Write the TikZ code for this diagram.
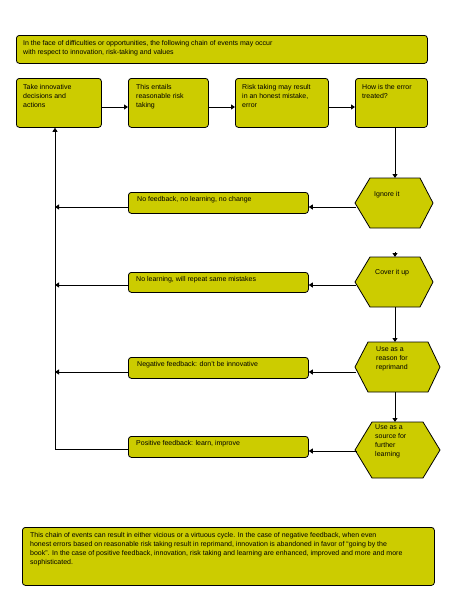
\documentclass[tikz,border=0pt]{standalone}
\usepackage{fontspec}
\setmainfont{Liberation Sans}
\usetikzlibrary{arrows.meta,calc}
\definecolor{olive}{RGB}{204,204,0}
\tikzset{
  box/.style={draw=black, line width=0.8pt, fill=olive, rounded corners=3pt, inner sep=0pt, anchor=north west},
  lbl/.style={anchor=north west, inner sep=0pt, align=left, font=\fontsize{7}{9}\selectfont},
  hexs/.style={draw=black, line width=0.8pt, fill=olive},
  conn/.style={line width=0.8pt, -{Triangle[length=4pt,width=5pt]}},
  plain/.style={line width=0.8pt},
}
\begin{document}
\begin{tikzpicture}[x=1pt,y=-1pt]
\useasboundingbox (0,0) rectangle (450,600);
% top box
\node[box, minimum width=411pt, minimum height=28pt] (top) at (16,35) {};
\node[lbl] (topt) at (23,40) {In the face of difficulties or opportunities, the following chain of events may occur\\with respect to innovation, risk-taking and values};
% row boxes
\node[box, minimum width=85pt, minimum height=49pt] (b1) at (16,78) {};
\node[lbl] (b1t) at (23,84) {Take innovative\\decisions and\\actions};
\node[box, minimum width=80pt, minimum height=49pt] (b2) at (128,78) {};
\node[lbl] (b2t) at (136,84) {This entails\\reasonable risk\\taking};
\node[box, minimum width=93pt, minimum height=49pt] (b3) at (235,78) {};
\node[lbl] (b3t) at (242,84) {Risk taking may result\\in an honest mistake,\\error};
\node[box, minimum width=72pt, minimum height=49pt] (b4) at (355,78) {};
\node[lbl] (b4t) at (362,84) {How is the error\\treated?};
\draw[conn] (b1.east |- 0,107) coordinate (a1s) -- (b2.west |- 0,107) coordinate (a1e);
\draw[conn] (b2.east |- 0,107) coordinate (a2s) -- (b3.west |- 0,107) coordinate (a2e);
\draw[conn] (b3.east |- 0,107) coordinate (a3s) -- (b4.west |- 0,107) coordinate (a3e);
% hexagons
\draw[hexs] (355,203) coordinate (h1l) -- (370,178) -- (395,178) coordinate (h1t) -- (420,178) -- (433,203) -- (420,228) -- (395,228) coordinate (h1b) -- (370,228) -- cycle;
\node[lbl] (h1x) at (374,191) {Ignore it};
\draw[hexs] (355,282) coordinate (h2l) -- (370,257) -- (395,257) coordinate (h2t) -- (420,257) -- (433,282) -- (420,307) -- (395,307) coordinate (h2b) -- (370,307) -- cycle;
\node[lbl] (h2x) at (375,269) {Cover it up};
\draw[hexs] (355,367) coordinate (h3l) -- (368,342) -- (395,342) coordinate (h3t) -- (428,342) -- (440,367) -- (428,392) -- (395,392) coordinate (h3b) -- (368,392) -- cycle;
\node[lbl] (h3x) at (376,346) {Use as a\\reason for\\reprimand};
\draw[hexs] (355,450) coordinate (h4l) -- (372,422) -- (395,422) coordinate (h4t) -- (423,422) -- (440,450) -- (423,478) -- (395,478) coordinate (h4b) -- (372,478) -- cycle;
\node[lbl] (h4x) at (375,424) {Use as a\\source for\\further\\learning};
% vertical connectors
\draw[conn] (b4.south -| h1t) -- (h1t);
\coordinate (h2tip) at ($(h2t)+(0,-5)$);
\draw[conn] (h2tip) -- (h2t);
\draw[conn] (h2b) -- (h3t);
\draw[conn] (h3b) -- (h4t);
% outcome boxes
\node[box, minimum width=180pt, minimum height=21pt] (o1) at (128,192) {};
\node[lbl] (o1t) at (137,196) {No feedback, no learning, no change};
\node[box, minimum width=180pt, minimum height=20pt] (o2) at (128,272) {};
\node[lbl] (o2t) at (136,276) {No learning, will repeat same mistakes};
\node[box, minimum width=180pt, minimum height=21pt] (o3) at (128,357) {};
\node[lbl] (o3t) at (137,361) {Negative feedback: don't be innovative};
\node[box, minimum width=180pt, minimum height=21pt] (o4) at (128,436) {};
\node[lbl] (o4t) at (136,440) {Positive feedback: learn, improve};
% hexagon to outcome
\draw[conn] (356,207) coordinate (c1s) -- (o1.east |- c1s);
\draw[conn] (356,285) coordinate (c2s) -- (o2.east |- c2s);
\draw[conn] (356,372) coordinate (c3s) -- (o3.east |- c3s);
\draw[conn] (357,451) coordinate (c4s) -- (o4.east |- c4s);
% back to left line
\coordinate (L0) at (55,449);
\draw[plain] (o4.west |- L0) -- (L0);
\draw[conn] (L0) -- (b1.south -| L0);
\draw[conn] (o1.west |- 0,207) -- (55,207) coordinate (e1);
\draw[conn] (o2.west |- 0,285) -- (55,285) coordinate (e2);
\draw[conn] (o3.west |- 0,372) -- (55,372) coordinate (e3);
% bottom box
\node[box, minimum width=412pt, minimum height=58pt] (bot) at (22,527) {};
\node[lbl] (bott) at (30,532) {This chain of events can result in either vicious or a virtuous cycle. In the case of negative feedback, when even\\honest errors based on reasonable risk taking result in reprimand, innovation is abandoned in favor of ``going by the\\book''. In the case of positive feedback, innovation, risk taking and learning are enhanced, improved and more and more\\sophisticated.};
\end{tikzpicture}
\end{document}
